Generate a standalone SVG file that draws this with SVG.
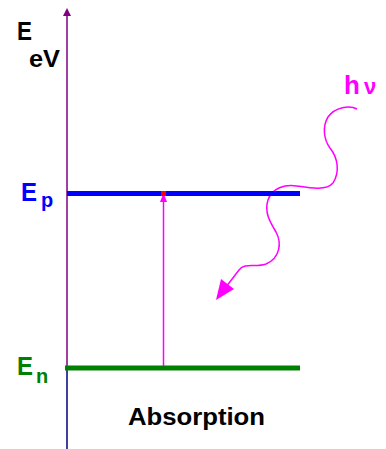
<svg xmlns="http://www.w3.org/2000/svg" width="386" height="449" viewBox="0 0 386 449">
<style>
text{font-family:"Liberation Sans",Arial,sans-serif;font-weight:bold}
.lvl{stroke-width:5;fill:none}
</style>
<rect width="386" height="449" fill="#ffffff"/>
<g id="connectors">
<line x1="67" y1="12" x2="67" y2="368" stroke="#800080" stroke-width="1.5"/>
<line x1="67" y1="368" x2="67" y2="449" stroke="#000080" stroke-width="1.5"/>
<polygon points="67,8 63,16 71,16" fill="#800080"/>
<line x1="163.5" y1="368" x2="163.5" y2="198" stroke="#ff00ff" stroke-width="1.5"/>
<polygon points="163.5,193 160,202 167,202" fill="#ff00ff"/>
<path d="M357,109 C350,105 335,107 328,117 C322,127 324,140 330,148 C338,158 340,172 333,183 C326,191 310,188 297,186 C285,184 272,188 268,200 C264,212 270,222 276,232 C282,243 280,258 266,264 C255,268 245,262 239,270 L226,287" stroke="#ff00ff" stroke-width="1.5" fill="none"/>
<polygon points="216,300 221,279 234,289" fill="#ff00ff"/>
</g>
<g id="Ep">
<line class="lvl" x1="67" y1="193.5" x2="300" y2="193.5" stroke="#0000ff"/>
<rect x="161" y="191" width="5" height="5" fill="#ff0000"/>
<text x="21" y="201" font-size="26" fill="#0000ff" textLength="16" lengthAdjust="spacingAndGlyphs">E</text>
<text x="41" y="207" font-size="20" fill="#0000ff">p</text>
</g>
<g id="En">
<line class="lvl" x1="65" y1="368" x2="300" y2="368" stroke="#008000"/>
<text x="17" y="375" font-size="26" fill="#008000" textLength="16" lengthAdjust="spacingAndGlyphs">E</text>
<text x="36" y="383" font-size="20" fill="#008000">n</text>
</g>
<g id="axis-label">
<text x="17" y="40" font-size="25" fill="#000000" textLength="15" lengthAdjust="spacingAndGlyphs">E</text>
<text x="29" y="67" font-size="24" fill="#000000" textLength="31" lengthAdjust="spacingAndGlyphs">eV</text>
</g>
<g id="photon">
<text x="344" y="94" font-size="26" fill="#ff00ff">h</text>
<text x="364" y="94" font-size="22" fill="#ff00ff">ν</text>
</g>
<g id="caption">
<text x="128" y="425" font-size="23" fill="#000000" textLength="137" lengthAdjust="spacingAndGlyphs">Absorption</text>
</g>
</svg>
